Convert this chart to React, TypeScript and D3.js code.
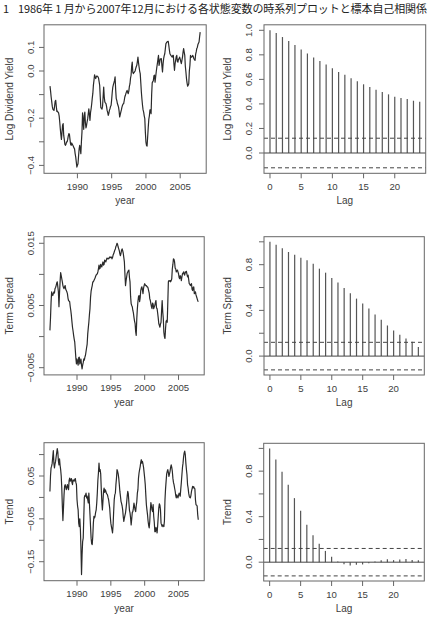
import * as d3 from 'd3'

// monthly observations, Jan 1986 .. Dec 2007 (one row per year)
const startYear = 1986

const divYield = [
  -0.064, -0.085, -0.110, -0.130, -0.150, -0.162, -0.165, -0.167, -0.150, -0.128, -0.124, -0.150,
  -0.171, -0.170, -0.175, -0.177, -0.190, -0.215, -0.244, -0.270, -0.290, -0.260, -0.230, -0.223,
  -0.273, -0.290, -0.310, -0.315, -0.310, -0.300, -0.300, -0.290, -0.275, -0.265, -0.268, -0.290,
  -0.310, -0.315, -0.305, -0.310, -0.315, -0.320, -0.326, -0.330, -0.350, -0.364, -0.385, -0.407,
  -0.400, -0.393, -0.360, -0.330, -0.315, -0.330, -0.350, -0.300, -0.258, -0.177, -0.210, -0.247,
  -0.190, -0.174, -0.220, -0.241, -0.230, -0.215, -0.202, -0.180, -0.160, -0.185, -0.209, -0.175,
  -0.160, -0.140, -0.115, -0.095, -0.060, -0.040, -0.016, -0.025, -0.032, -0.025, -0.021, -0.022,
  -0.025, -0.030, -0.045, -0.061, -0.110, -0.155, -0.158, -0.162, -0.150, -0.110, -0.068, -0.110,
  -0.131, -0.135, -0.138, -0.150, -0.167, -0.175, -0.188, -0.180, -0.167, -0.160, -0.150, -0.145,
  -0.120, -0.090, -0.068, -0.058, -0.049, -0.040, -0.025, -0.080, -0.117, -0.125, -0.138, -0.145,
  -0.153, -0.170, -0.195, -0.185, -0.174, -0.165, -0.153, -0.145, -0.140, -0.138, -0.125, -0.110,
  -0.103, -0.095, -0.088, -0.082, -0.090, -0.096, -0.085, -0.065, -0.055, -0.030, -0.018, 0.020,
  0.038, -0.005, -0.011, -0.006, -0.004, 0.000, 0.010, 0.018, 0.024, 0.040, 0.059, 0.035,
  0.017, 0.000, -0.011, -0.050, -0.090, -0.120, -0.145, -0.165, -0.174, -0.190, -0.202, -0.260,
  -0.301, -0.315, -0.318, -0.280, -0.240, -0.205, -0.190, -0.165, -0.165, -0.181, -0.100, -0.050,
  -0.045, -0.040, -0.020, -0.018, -0.047, -0.025, -0.004, 0.015, 0.031, 0.050, 0.066, 0.024,
  0.035, 0.052, 0.050, 0.052, 0.020, -0.004, 0.030, 0.052, 0.065, 0.073, 0.095, 0.116,
  0.120, 0.123, 0.125, 0.126, 0.109, 0.090, 0.073, 0.069, 0.065, 0.062, 0.059, 0.066,
  0.066, 0.030, 0.003, 0.030, 0.045, 0.060, 0.066, 0.040, 0.038, 0.050, 0.052, 0.059,
  0.050, 0.040, 0.031, 0.045, 0.059, 0.080, 0.095, 0.080, 0.066, 0.020, -0.004, -0.032,
  -0.050, -0.064, -0.060, -0.054, 0.000, 0.024, 0.066, 0.060, 0.059, 0.062, 0.066, 0.060,
  0.052, 0.048, 0.045, 0.070, 0.081, 0.095, 0.100, 0.112, 0.118, 0.123, 0.145, 0.165,
]

const termSpread = [
  0.0010, 0.0030, 0.0055, 0.0072, 0.0068, 0.0066, 0.0069, 0.0072, 0.0070, 0.0077, 0.0079, 0.0082,
  0.0086, 0.0088, 0.0080, 0.0072, 0.0048, 0.0070, 0.0088, 0.0103, 0.0098, 0.0093, 0.0088, 0.0082,
  0.0079, 0.0077, 0.0080, 0.0082, 0.0076, 0.0074, 0.0072, 0.0069, 0.0062, 0.0058, 0.0057, 0.0056,
  0.0048, 0.0042, 0.0034, 0.0024, 0.0015, 0.0009, 0.0002, -0.0004, -0.0009, -0.0022, -0.0035, -0.0044,
  -0.0036, -0.0041, -0.0046, -0.0034, -0.0033, -0.0044, -0.0040, -0.0036, -0.0046, -0.0052, -0.0046, -0.0042,
  -0.0036, -0.0038, -0.0033, -0.0030, -0.0024, -0.0018, -0.0012, 0.0004, 0.0014, 0.0023, 0.0035, 0.0045,
  0.0063, 0.0073, 0.0078, 0.0082, 0.0088, 0.0088, 0.0090, 0.0092, 0.0094, 0.0097, 0.0099, 0.0100,
  0.0101, 0.0104, 0.0109, 0.0115, 0.0109, 0.0110, 0.0116, 0.0114, 0.0112, 0.0117, 0.0120, 0.0115,
  0.0116, 0.0123, 0.0121, 0.0120, 0.0123, 0.0126, 0.0125, 0.0126, 0.0125, 0.0126, 0.0128, 0.0127,
  0.0128, 0.0128, 0.0125, 0.0127, 0.0131, 0.0133, 0.0136, 0.0139, 0.0141, 0.0145, 0.0147, 0.0150,
  0.0148, 0.0144, 0.0141, 0.0138, 0.0133, 0.0130, 0.0134, 0.0139, 0.0141, 0.0138, 0.0134, 0.0127,
  0.0120, 0.0100, 0.0082, 0.0090, 0.0096, 0.0102, 0.0104, 0.0106, 0.0107, 0.0095, 0.0088, 0.0065,
  0.0053, 0.0050, 0.0048, 0.0042, 0.0038, 0.0031, 0.0025, 0.0021, 0.0008, 0.0002, 0.0029, 0.0045,
  0.0056, 0.0064, 0.0066, 0.0056, 0.0062, 0.0074, 0.0078, 0.0080, 0.0075, 0.0069, 0.0078, 0.0082,
  0.0085, 0.0083, 0.0082, 0.0082, 0.0080, 0.0080, 0.0078, 0.0074, 0.0070, 0.0061, 0.0058, 0.0053,
  0.0048, 0.0045, 0.0054, 0.0052, 0.0045, 0.0048, 0.0050, 0.0055, 0.0058, 0.0046, 0.0045, 0.0038,
  0.0030, 0.0021, 0.0018, 0.0015, 0.0020, 0.0023, 0.0042, 0.0058, 0.0040, 0.0029, 0.0007, 0.0000,
  -0.0003, 0.0013, 0.0025, 0.0026, 0.0023, 0.0055, 0.0088, 0.0090, 0.0089, 0.0090, 0.0088, 0.0090,
  0.0093, 0.0109, 0.0116, 0.0125, 0.0124, 0.0120, 0.0110, 0.0109, 0.0104, 0.0106, 0.0107, 0.0104,
  0.0101, 0.0095, 0.0093, 0.0098, 0.0096, 0.0090, 0.0096, 0.0101, 0.0102, 0.0104, 0.0100, 0.0099,
  0.0104, 0.0103, 0.0105, 0.0100, 0.0096, 0.0099, 0.0092, 0.0085, 0.0084, 0.0082, 0.0084, 0.0085,
  0.0076, 0.0074, 0.0079, 0.0080, 0.0069, 0.0070, 0.0072, 0.0067, 0.0064, 0.0061, 0.0058, 0.0056,
]

const trend = [
  0.014, 0.050, 0.069, 0.073, 0.080, 0.095, 0.109, 0.080, 0.069, 0.078, 0.084, 0.095,
  0.104, 0.114, 0.106, 0.085, 0.076, 0.090, 0.075, 0.065, 0.050, 0.022, -0.020, -0.054,
  -0.025, 0.006, 0.026, 0.030, 0.024, 0.018, 0.025, 0.030, 0.022, 0.018, 0.040, 0.045,
  0.038, 0.041, 0.044, 0.035, 0.030, 0.041, 0.040, 0.038, 0.042, 0.044, 0.035, 0.030,
  -0.005, -0.020, -0.029, -0.060, -0.068, -0.050, -0.075, -0.118, -0.180, -0.133, -0.103, -0.095,
  -0.048, 0.000, 0.005, 0.003, 0.010, -0.001, 0.003, -0.005, -0.013, 0.010, -0.013, -0.040,
  -0.068, -0.095, -0.108, -0.110, -0.090, -0.060, -0.044, -0.048, -0.044, -0.035, -0.029, -0.013,
  0.010, 0.040, 0.057, 0.080, 0.061, 0.065, 0.055, 0.020, -0.010, -0.029, -0.009, 0.014,
  0.022, 0.012, 0.018, 0.015, 0.010, 0.008, 0.006, 0.000, -0.005, -0.015, -0.025, -0.045,
  -0.060, -0.068, -0.075, -0.083, -0.064, -0.033, -0.005, 0.006, 0.010, 0.030, 0.045, 0.065,
  0.061, 0.055, 0.045, 0.030, 0.014, 0.003, -0.009, -0.014, -0.020, -0.029, -0.045, -0.056,
  -0.048, -0.042, -0.036, -0.025, -0.012, 0.003, 0.014, 0.008, -0.012, -0.030, -0.036, -0.048,
  -0.064, -0.050, -0.035, -0.033, -0.025, -0.013, -0.021, -0.029, -0.033, -0.020, -0.010, 0.010,
  0.018, 0.045, 0.057, 0.065, 0.072, 0.082, 0.088, 0.080, 0.084, 0.078, 0.070, 0.058,
  0.045, 0.030, 0.006, -0.017, -0.029, -0.040, -0.055, -0.065, -0.071, -0.056, -0.030, -0.012,
  -0.020, -0.029, -0.033, -0.017, -0.044, -0.058, -0.080, -0.080, -0.070, -0.075, -0.083, -0.066,
  -0.045, -0.025, -0.015, -0.018, -0.029, -0.060, -0.064, -0.068, -0.064, -0.066, -0.068, -0.055,
  -0.005, 0.020, 0.038, 0.055, 0.061, 0.065, 0.058, 0.049, 0.055, 0.061, 0.070, 0.076,
  0.070, 0.061, 0.045, 0.035, 0.030, 0.022, 0.015, 0.005, -0.001, 0.006, 0.002, -0.001,
  0.005, 0.010, 0.006, 0.003, 0.020, 0.035, 0.053, 0.070, 0.080, 0.095, 0.104, 0.108,
  0.100, 0.080, 0.065, 0.053, 0.030, 0.022, 0.010, 0.003, 0.000, -0.001, 0.005, 0.014,
  0.020, 0.026, 0.022, 0.025, 0.022, 0.020, -0.005, -0.017, -0.018, -0.020, -0.040, -0.052,
]

// sample autocorrelations, lags 0..24
const acfDivYield = [
  1.0, 0.978, 0.945, 0.913, 0.88, 0.844, 0.811, 0.779, 0.749, 0.721, 0.691, 0.661, 0.637,
  0.609, 0.585, 0.56, 0.538, 0.516, 0.497, 0.478, 0.459, 0.448, 0.44, 0.426, 0.418,
]
const acfTermSpread = [
  1.0, 0.975, 0.943, 0.911, 0.887, 0.861, 0.838, 0.809, 0.765, 0.73, 0.684, 0.643, 0.596,
  0.55, 0.503, 0.46, 0.416, 0.364, 0.317, 0.268, 0.224, 0.186, 0.154, 0.125, 0.079,
]
const acfTrend = [
  1.0, 0.902, 0.794, 0.68, 0.563, 0.453, 0.33, 0.236, 0.161, 0.099, 0.047, 0.006, -0.018,
  -0.029, -0.023, -0.02, -0.009, 0.006, 0.018, 0.026, 0.018, 0.023, 0.029, 0.02, 0.018,
]
const acfBound = 0.1206

const yearTicks = [1990, 1995, 2000, 2005]
const lagTicks = [0, 5, 10, 15, 20]
const divTicks = [-0.4, -0.3, -0.2, -0.1, 0, 0.1]
const divLabels = [-0.4, -0.2, 0, 0.1]
const termTicks = [-0.005, 0, 0.005, 0.01, 0.015]
const termLabels = [-0.005, 0.005, 0.015]
const trendTicks = [-0.15, -0.1, -0.05, 0, 0.05, 0.1]
const trendLabels = [-0.15, -0.05, 0.05]
const acfTicks = [0, 0.2, 0.4, 0.6, 0.8, 1.0]
const acfLabelsFull = [0, 0.2, 0.4, 0.6, 0.8, 1.0]
const acfLabelsSparse = [0, 0.4, 0.8]

const titleNo = '1'
const titleText = '1986年 1 月から2007年12月における各状態変数の時系列プロットと標本自己相関係'

const font = '"Liberation Sans", Arial, Helvetica, sans-serif'
const ink = '#3d3d3d'
const frame = '#666'

type Box = { x0: number, x1: number, y0: number, y1: number }

function Frame({ box, x, y, xTicks, yTicks, yLabels, fmt, xlab, ylab, tickX, labX }: any) {
  const tk = 5
  const cy = (box.y0 + box.y1) / 2
  return (
    <g fontFamily={font} fill={ink}>
      <rect x={box.x0} y={box.y0} width={box.x1 - box.x0} height={box.y1 - box.y0}
        fill="none" stroke={frame} strokeWidth={1} />
      {xTicks.map((t: number) => (
        <g key={'x' + t}>
          <line x1={x(t)} x2={x(t)} y1={box.y1} y2={box.y1 + tk} stroke={frame} />
          <text x={x(t)} y={box.y1 + 16.5} textAnchor="middle" fontSize={9.6}>{t}</text>
        </g>
      ))}
      {yTicks.map((t: number) => (
        <line key={'y' + t} x1={box.x0 - tk} x2={box.x0} y1={y(t)} y2={y(t)} stroke={frame} />
      ))}
      {yLabels.map((t: number) => (
        <text key={'l' + t} transform={`translate(${tickX},${y(t)}) rotate(-90)`}
          textAnchor="middle" fontSize={9.6}>{fmt(t)}</text>
      ))}
      <text x={(box.x0 + box.x1) / 2} y={box.y1 + 31} textAnchor="middle" fontSize={10}>{xlab}</text>
      <text transform={`translate(${labX},${cy}) rotate(-90)`} textAnchor="middle" fontSize={10}>{ylab}</text>
    </g>
  )
}

function SeriesPanel({ box, values, yDomain, yTicks, yLabels, fmt, ylab }: any) {
  const x = d3.scaleLinear().domain([1985.123, 2008.794]).range([box.x0, box.x1])
  const y = d3.scaleLinear().domain(yDomain).range([box.y1, box.y0])
  const line = d3.line<number>()
    .x((v, i) => x(startYear + i / 12))
    .y(v => y(v))
  return (
    <g>
      <path d={line(values) || ''} fill="none" stroke="#2a2a2a" strokeWidth={1.2} strokeLinejoin="round" />
      <Frame box={box} x={x} y={y} xTicks={yearTicks} yTicks={yTicks} yLabels={yLabels}
        fmt={fmt} xlab="year" ylab={ylab} tickX={33.5} labX={13} />
    </g>
  )
}

function AcfPanel({ box, values, yLabels, ylab }: any) {
  const x = d3.scaleLinear().domain([-0.96, 24.96]).range([box.x0, box.x1])
  const y = d3.scaleLinear().domain([-0.1654, 1.0448]).range([box.y1, box.y0])
  const fmt = d3.format('.1f')
  return (
    <g>
      {values.map((v: number, i: number) => (
        <line key={i} x1={x(i)} x2={x(i)} y1={y(0)} y2={y(v)} stroke="#555" strokeWidth={1.2} />
      ))}
      <line x1={box.x0} x2={box.x1} y1={y(0)} y2={y(0)} stroke="#444" strokeWidth={1} />
      {[acfBound, -acfBound].map(b => (
        <line key={b} x1={box.x0} x2={box.x1} y1={y(b)} y2={y(b)} stroke="#444"
          strokeWidth={1} strokeDasharray="4,3" />
      ))}
      <Frame box={box} x={x} y={y} xTicks={lagTicks} yTicks={acfTicks} yLabels={yLabels}
        fmt={fmt} xlab="Lag" ylab={ylab} tickX={251.5} labX={230.5} />
    </g>
  )
}

export default function App() {
  const left1: Box = { x0: 44, x1: 206.2, y0: 24.8, y1: 173.3 }
  const right1: Box = { x0: 264, x1: 425.7, y0: 24.8, y1: 173.3 }
  const left2: Box = { x0: 44, x1: 204.2, y0: 236.7, y1: 374.9 }
  const right2: Box = { x0: 264, x1: 424.3, y0: 236.7, y1: 375 }
  const left3: Box = { x0: 44, x1: 204.2, y0: 442.7, y1: 580.7 }
  const right3: Box = { x0: 263.7, x1: 424.3, y0: 443.3, y1: 581 }

  return (
    <svg width={429} height={642} viewBox="0 0 429 642"
      style={{ position: 'absolute', left: 0, top: 0, background: '#fff' }}>
      <rect width={429} height={642} fill="#fff" />
      <g fontFamily='"Noto Sans CJK JP", sans-serif' fill="#222" fontSize={11}>
        <text x={3} y={12.5}>{titleNo}</text>
        <text x={18} y={12.5} textLength={409} lengthAdjust="spacing">{titleText}</text>
      </g>

      <SeriesPanel box={left1} values={divYield} yDomain={[-0.4335, 0.1958]}
        yTicks={divTicks} yLabels={divLabels} fmt={d3.format('.1f')} ylab="Log Dividend Yield" />
      <AcfPanel box={right1} values={acfDivYield} yLabels={acfLabelsFull} ylab="Log Dividend Yield" />

      <SeriesPanel box={left2} values={termSpread} yDomain={[-0.00616, 0.01606]}
        yTicks={termTicks} yLabels={termLabels} fmt={d3.format('.3f')} ylab="Term Spread" />
      <AcfPanel box={right2} values={acfTermSpread} yLabels={acfLabelsSparse} ylab="Term Spread" />

      <SeriesPanel box={left3} values={trend} yDomain={[-0.1943, 0.1277]}
        yTicks={trendTicks} yLabels={trendLabels} fmt={d3.format('.2f')} ylab="Trend" />
      <AcfPanel box={right3} values={acfTrend} yLabels={acfLabelsSparse} ylab="Trend" />
    </svg>
  )
}
